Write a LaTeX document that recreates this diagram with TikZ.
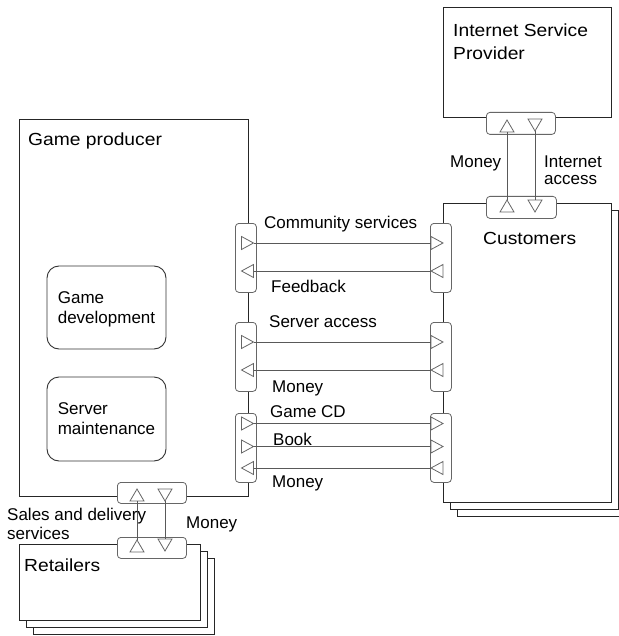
\documentclass[tikz,border=0pt]{standalone}
\usepackage{fontspec}
\setmainfont{Liberation Sans}
\newfontfamily\actorfont[FakeStretch=1.1]{Liberation Sans}
\begin{document}
\begin{tikzpicture}[x=1pt,y=-1pt,
  actor/.style={draw=black!85, line width=0.9pt, fill=white, inner sep=0pt, anchor=north west},
  activity/.style={draw=black!80, line width=0.9pt, rounded corners=12pt, inner sep=0pt,
    align=left, text depth=0pt, font=\fontsize{17}{20}\selectfont},
  port/.style={draw=black!60, line width=0.8pt, fill=white, rounded corners=3.5pt,
    inner sep=0pt, anchor=north west},
  trishape/.style={draw=black!60, line width=0.8pt, fill=white, line join=miter},
  flow/.style={draw=black!65, line width=0.8pt},
  actorlabel/.style={anchor=base west, inner sep=0pt, align=left,
    font=\actorfont\fontsize{17.5}{23}\selectfont},
  tlabel/.style={anchor=base west, inner sep=0pt, align=left,
    font=\fontsize{17}{19}\selectfont},
  tri r/.pic={\draw[trishape] (-6,-6.5) -- (6,0) -- (-6,6.5) -- cycle;
    \coordinate (-tip) at (6,0); \coordinate (-base) at (-6,0);},
  tri l/.pic={\draw[trishape] (6,-6.5) -- (-6,0) -- (6,6.5) -- cycle;
    \coordinate (-tip) at (-6,0); \coordinate (-base) at (6,0);},
  tri u/.pic={\draw[trishape] (-7,6) -- (0,-6) -- (7,6) -- cycle;
    \coordinate (-tip) at (0,-6); \coordinate (-base) at (0,6);},
  tri d/.pic={\draw[trishape] (-7,-6) -- (0,6) -- (7,-6) -- cycle;
    \coordinate (-tip) at (0,6); \coordinate (-base) at (0,-6);},
]
\useasboundingbox[fill=white] (0,0) rectangle (618,636);

% ---- actors (market segments drawn as stacks) ----
\node[actor, minimum width=168pt, minimum height=299pt] (cu3) at (457,217) {};
\node[actor, minimum width=168pt, minimum height=299pt] (cu2) at (450,210) {};
\node[actor, minimum width=168pt, minimum height=299pt] (cu)  at (443,203) {};
\node[actor, minimum width=168pt, minimum height=110pt] (isp) at (443,7) {};
\node[actor, minimum width=229pt, minimum height=377pt] (gp)  at (19,119) {};
\node[actor, minimum width=181pt, minimum height=76pt]  (re3) at (33,558) {};
\node[actor, minimum width=181pt, minimum height=76pt]  (re2) at (26,551) {};
\node[actor, minimum width=181pt, minimum height=76pt]  (re)  at (19,544) {};

% multi-line labels are placed by the baseline of their last line
\node[actorlabel] (ispL) at (453,60)  {Internet Service\\Provider};
\node[actorlabel] (gpL)  at (28,146)  {Game producer};
\node[actorlabel] (cuL)  at (483,244) {Customers};
\node[actorlabel] (reL)  at (24,571)  {Retailers};

% ---- value activities ----
\node[activity, minimum width=119pt, minimum height=83pt] (dev)   at (106.5,307.5) {Game\\development};
\node[activity, minimum width=119pt, minimum height=84pt] (maint) at (106.5,419)   {Server\\maintenance};

% ---- value interfaces ----
\node[port, minimum width=21pt, minimum height=69pt] (pg1) at (235,223) {};
\node[port, minimum width=21pt, minimum height=69pt] (pg2) at (235,322) {};
\node[port, minimum width=21pt, minimum height=69pt] (pg3) at (235,413) {};
\node[port, minimum width=21pt, minimum height=69pt] (pc1) at (430,223) {};
\node[port, minimum width=21pt, minimum height=69pt] (pc2) at (430,322) {};
\node[port, minimum width=21pt, minimum height=69pt] (pc3) at (430,413) {};
\node[port, minimum width=69pt, minimum height=22pt] (pisp) at (486,112) {};
\node[port, minimum width=70pt, minimum height=22pt] (pcu)  at (486,196) {};
\node[port, minimum width=69pt, minimum height=21pt] (pgb)  at (117,482) {};
\node[port, minimum width=69pt, minimum height=21pt] (pre)  at (117,537) {};

% ---- value ports ----
\pic (g1) at (247.5,243) {tri r};   \pic (c1) at (437,243) {tri r};
\pic (g2) at (247.5,271) {tri l};   \pic (c2) at (437,271) {tri l};
\pic (g3) at (247.5,342) {tri r};   \pic (c3) at (437,342) {tri r};
\pic (g4) at (247.5,370) {tri l};   \pic (c4) at (437,370) {tri l};
\pic (g5) at (247.5,423.5) {tri r}; \pic (c5) at (437,423.5) {tri r};
\pic (g6) at (247.5,446.5) {tri r}; \pic (c6) at (437,446.5) {tri r};
\pic (g7) at (247.5,468) {tri l};   \pic (c7) at (437,468) {tri l};

\pic (ispU) at (507,126) {tri u};  \pic (ispD) at (535,125) {tri d};
\pic (cuU)  at (507,206) {tri u};  \pic (cuD)  at (535,206) {tri d};
\pic (gpU)  at (137,495) {tri u};  \pic (gpD)  at (165,495) {tri d};
\pic (reU)  at (137,546) {tri u};  \pic (reD)  at (165,545) {tri d};

% ---- value transfers ----
\draw[flow] (g1-tip) -- (c1-base);
\draw[flow] (c2-tip) -- (g2-base);
\draw[flow] (g3-tip) -- (c3-base);
\draw[flow] (c4-tip) -- (g4-base);
\draw[flow] (g5-tip) -- (c5-base);
\draw[flow] (g6-tip) -- (c6-base);
\draw[flow] (c7-tip) -- (g7-base);
\draw[flow] (cuU-tip) -- (ispU-base);
\draw[flow] (ispD-tip) -- (cuD-base);
\draw[flow] (reU-tip) -- (gpU-base);
\draw[flow] (gpD-tip) -- (reD-base);

% ---- transfer labels ----
\node[tlabel] (l1) at (264,229)   {Community services};
\node[tlabel] (l2) at (271,292)   {Feedback};
\node[tlabel] (l3) at (269,327)   {Server access};
\node[tlabel] (l4) at (272,392)   {Money};
\node[tlabel] (l5) at (270,417)   {Game CD};
\node[tlabel] (l6) at (273,445.5) {Book};
\node[tlabel] (l7) at (272,487)   {Money};
\node[tlabel] (l8) at (450,168)   {Money};
\node[tlabel] (l9) at (544,185)   {Internet\\[-2pt]access};
\node[tlabel] (l10) at (7,539)    {Sales and delivery\\services};
\node[tlabel] (l11) at (186,528)  {Money};
\end{tikzpicture}
\end{document}
